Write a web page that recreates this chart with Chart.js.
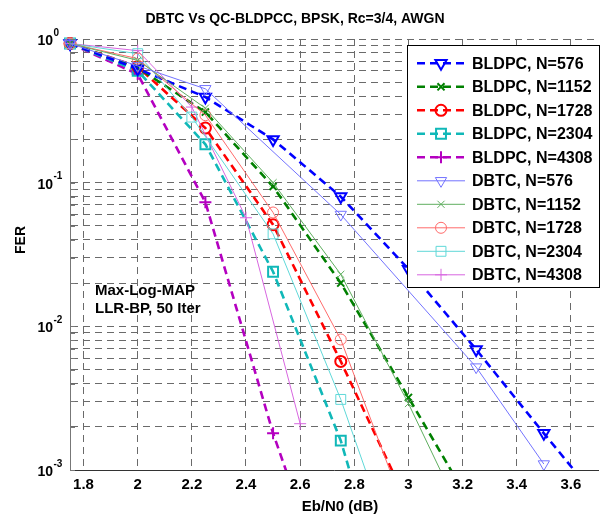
<!DOCTYPE html>
<html><head><meta charset="utf-8">
<script src="https://cdn.jsdelivr.net/npm/chart.js@4.4.0/dist/chart.umd.min.js"></script>
<style>html,body{margin:0;padding:0;background:#fff;}#wrap{width:601px;height:515px;}</style>
</head><body><div id="wrap"><canvas id="c" width="601" height="515"></canvas></div>
<script>
const titleText = 'DBTC Vs QC-BLDPCC, BPSK, Rc=3/4, AWGN';
const xLabel = 'Eb/N0 (dB)';
const yLabel = 'FER';
const noteLines = ['Max-Log-MAP', 'LLR-BP, 50 Iter'];
const xTicks = [1.8, 2, 2.2, 2.4, 2.6, 2.8, 3, 3.2, 3.4, 3.6];
const yDecades = [-3, -2, -1, 0];

const seriesNames = ['BLDPC, N=576','BLDPC, N=1152','BLDPC, N=1728','BLDPC, N=2304','BLDPC, N=4308',
                     'DBTC, N=576','DBTC, N=1152','DBTC, N=1728','DBTC, N=2304','DBTC, N=4308'];

const x_bldpc576  = [1.75, 2, 2.25, 2.5, 2.75, 3, 3.25, 3.5, 3.75];
const y_bldpc576  = [0.93, 0.62, 0.394, 0.20, 0.080, 0.025, 0.0069, 0.0018, 0.00048];
const x_bldpc1152 = [1.75, 2, 2.25, 2.5, 2.75, 3, 3.25];
const y_bldpc1152 = [0.93, 0.63, 0.31, 0.094, 0.020, 0.0032, 0.0005];
const x_bldpc1728 = [1.75, 2, 2.25, 2.5, 2.75, 3];
const y_bldpc1728 = [0.93, 0.64, 0.24, 0.051, 0.0057, 0.00057];
const x_bldpc2304 = [1.75, 2, 2.25, 2.5, 2.75, 3];
const y_bldpc2304 = [0.93, 0.60, 0.185, 0.024, 0.0016, 0.00004];
const x_bldpc4308 = [1.75, 2, 2.25, 2.5, 2.75];
const y_bldpc4308 = [0.93, 0.57, 0.073, 0.0018, 0.00008];

const x_dbtc576  = [1.75, 2, 2.25, 2.75, 3.25, 3.5];
const y_dbtc576  = [0.93, 0.65, 0.45, 0.060, 0.0052, 0.0011];
const x_dbtc1152 = [1.75, 2, 2.25, 2.5, 2.75, 3, 3.25];
const y_dbtc1152 = [0.93, 0.71, 0.33, 0.10, 0.023, 0.0029, 0.0003];
const x_dbtc1728 = [1.75, 2, 2.25, 2.5, 2.75, 3];
const y_dbtc1728 = [0.93, 0.73, 0.295, 0.062, 0.0081, 0.00045];
const x_dbtc2304 = [1.75, 2, 2.2, 2.5, 2.75, 3];
const y_dbtc2304 = [0.93, 0.79, 0.286, 0.044, 0.0031, 0.00014];
const x_dbtc4308 = [1.75, 2, 2.2, 2.4, 2.6];
const y_dbtc4308 = [0.93, 0.83, 0.336, 0.057, 0.0021];

const FONT = '"Liberation Sans", Arial, Helvetica, sans-serif';

function pts(xs, ys){ return xs.map((x,i)=>({x:x, y:ys[i]})); }

const styles = [
  {c:'#0000ff', dash:[8,5], w:2.6, ps:'triangle', rot:180, r:6.5, pw:2},
  {c:'#008000', dash:[8,5], w:2.6, ps:'crossRot', rot:0, r:5, pw:2},
  {c:'#ff0000', dash:[8,5], w:2.6, ps:'circle', rot:0, r:5.5, pw:2},
  {c:'#10b8b8', dash:[8,5], w:2.6, ps:'rect', rot:0, r:7, pw:2},
  {c:'#b400c0', dash:[8,5], w:2.6, ps:'cross', rot:0, r:6, pw:2},
  {c:'#7373ff', dash:[], w:1, ps:'triangle', rot:180, r:6.5, pw:1},
  {c:'#5fae5f', dash:[], w:1, ps:'crossRot', rot:0, r:5, pw:1},
  {c:'#ff6b6b', dash:[], w:1, ps:'circle', rot:0, r:5.5, pw:1},
  {c:'#5fd8d8', dash:[], w:1, ps:'rect', rot:0, r:7, pw:1},
  {c:'#d866e0', dash:[], w:1, ps:'cross', rot:0, r:6, pw:1}
];
const dataSets = [
  pts(x_bldpc576, y_bldpc576), pts(x_bldpc1152, y_bldpc1152), pts(x_bldpc1728, y_bldpc1728),
  pts(x_bldpc2304, y_bldpc2304), pts(x_bldpc4308, y_bldpc4308),
  pts(x_dbtc576, y_dbtc576), pts(x_dbtc1152, y_dbtc1152), pts(x_dbtc1728, y_dbtc1728),
  pts(x_dbtc2304, y_dbtc2304), pts(x_dbtc4308, y_dbtc4308)
];

const datasets = dataSets.map((d,i)=>{
  const s = styles[i];
  return {
    label: seriesNames[i], data: d, showLine: true, fill: false, tension: 0,
    borderColor: s.c, borderWidth: s.w, borderDash: s.dash,
    pointStyle: s.ps, pointRotation: s.rot, pointRadius: s.r, pointBorderWidth: s.pw,
    pointBorderColor: s.c, pointBackgroundColor: 'rgba(0,0,0,0)',
    clip: {left: 12, top: 12, right: 0, bottom: 0},
    order: i < 5 ? 1 : 0
  };
});

function drawMarker(ctx, s, x, y){
  ctx.save();
  ctx.strokeStyle = s.c; ctx.lineWidth = s.pw; ctx.setLineDash([]);
  ctx.beginPath();
  const r = s.r;
  if (s.ps === 'circle') { ctx.arc(x, y, r, 0, Math.PI*2); }
  else if (s.ps === 'triangle') {
    let a = s.rot*Math.PI/180;
    ctx.moveTo(x + Math.sin(a)*r, y - Math.cos(a)*r);
    a += 2*Math.PI/3; ctx.lineTo(x + Math.sin(a)*r, y - Math.cos(a)*r);
    a += 2*Math.PI/3; ctx.lineTo(x + Math.sin(a)*r, y - Math.cos(a)*r);
    ctx.closePath();
  } else if (s.ps === 'rect') { const h = r*Math.SQRT1_2; ctx.rect(x-h, y-h, 2*h, 2*h); }
  else if (s.ps === 'cross') { ctx.moveTo(x, y-r); ctx.lineTo(x, y+r); ctx.moveTo(x-r, y); ctx.lineTo(x+r, y); }
  else if (s.ps === 'crossRot') { const h = r*Math.SQRT1_2; ctx.moveTo(x-h, y-h); ctx.lineTo(x+h, y+h); ctx.moveTo(x+h, y-h); ctx.lineTo(x-h, y+h); }
  ctx.stroke();
  ctx.restore();
}

const decor = {
  id: 'decor',
  afterDatasetsDraw(chart){
    const ctx = chart.ctx, ys = chart.scales.y, ca = chart.chartArea;
    ctx.save();
    ctx.strokeStyle = '#777'; ctx.lineWidth = 1;
    ys.ticks.forEach(t=>{
      const py = Math.round(ys.getPixelForValue(t.value)) + 0.5;
      ctx.beginPath(); ctx.moveTo(ca.left, py); ctx.lineTo(ca.left + 5, py); ctx.stroke();
    });
    ctx.restore();
  },
  afterDraw(chart){
    const ctx = chart.ctx, ys = chart.scales.y;
    ctx.save();
    ctx.fillStyle = '#000';
    ctx.font = 'bold 14px ' + FONT; ctx.textAlign = 'center'; ctx.textBaseline = 'middle';
    ctx.fillText(titleText, 295, 19);
    ctx.font = 'bold 15px ' + FONT;
    ctx.fillText(xLabel, 340, 507);
    ctx.save(); ctx.translate(21, 240); ctx.rotate(-Math.PI/2);
    ctx.font = 'bold 14px ' + FONT; ctx.fillText(yLabel, 0, 0); ctx.restore();
    yDecades.forEach(d=>{
      const py = ys.getPixelForValue(Math.pow(10, d));
      ctx.font = 'bold 14px ' + FONT; ctx.textAlign = 'right'; ctx.textBaseline = 'middle';
      ctx.fillText('10', 53, py + 2);
      ctx.font = 'bold 10px ' + FONT; ctx.textAlign = 'left';
      ctx.fillText(String(d), 53.5, py - 6);
    });
    ctx.font = 'bold 15px ' + FONT; ctx.textAlign = 'left'; ctx.textBaseline = 'middle';
    ctx.fillText(noteLines[0], 95, 291);
    ctx.fillText(noteLines[1], 95, 308.5);
    const lx = 407.5, ly = 45.5, lw = 192, lh = 242;
    ctx.fillStyle = '#fff'; ctx.fillRect(lx, ly, lw, lh);
    ctx.strokeStyle = '#000'; ctx.lineWidth = 1; ctx.setLineDash([]);
    ctx.strokeRect(lx, ly, lw, lh);
    seriesNames.forEach((name, i)=>{
      const s = styles[i];
      const cy = 63.3 + i*23.5;
      ctx.save();
      ctx.strokeStyle = s.c; ctx.lineWidth = s.w; ctx.setLineDash(s.dash);
      ctx.beginPath(); ctx.moveTo(417, cy); ctx.lineTo(465, cy); ctx.stroke();
      ctx.restore();
      drawMarker(ctx, s, 441, cy);
      ctx.fillStyle = '#000'; ctx.font = 'bold 16px ' + FONT; ctx.textAlign = 'left'; ctx.textBaseline = 'middle';
      ctx.fillText(name, 472, cy + 1);
    });
    ctx.restore();
  }
};

const yTickVals = [];
yDecades.forEach(d=>{ if (d < 0) { for (let k=1;k<=9;k++) yTickVals.push(k*Math.pow(10,d)); } else yTickVals.push(1); });

new Chart(document.getElementById('c'), {
  type: 'scatter',
  data: { datasets: datasets },
  options: {
    responsive: false, animation: false, devicePixelRatio: 1,
    layout: { autoPadding: false, padding: { top: 39, right: 3, left: 0, bottom: 0 } },
    plugins: { legend: { display: false }, title: { display: false }, tooltip: { enabled: false } },
    scales: {
      x: {
        type: 'linear', min: 1.75, max: 3.7,
        afterBuildTicks(sc){ sc.ticks = xTicks.map(v=>({value:v})); },
        afterFit(sc){ sc.height = 45; sc.paddingLeft = 0; sc.paddingRight = 0; },
        ticks: { color: '#000', padding: 6, maxRotation: 0, autoSkip: false,
                 font: { family: FONT, size: 15, weight: 'bold' },
                 callback: (v)=> String(Math.round(v*10)/10) },
        grid: { color: '#6a6a6a', lineWidth: 1, drawTicks: false },
        border: { display: true, color: '#333', width: 1, dash: [7,5] }
      },
      y: {
        type: 'logarithmic', min: 0.001, max: 1,
        afterBuildTicks(sc){ sc.ticks = yTickVals.map(v=>({value:v})); },
        afterFit(sc){ sc.width = 70; sc.paddingTop = 0; sc.paddingBottom = 0; },
        ticks: { display: true, autoSkip: false, callback: ()=> '', font: { size: 1 } },
        grid: { color: '#6a6a6a', lineWidth: 1, drawTicks: false },
        border: { display: true, color: '#777', width: 1, dash: [7,5] }
      }
    }
  },
  plugins: [decor]
});
</script>
</body></html>
